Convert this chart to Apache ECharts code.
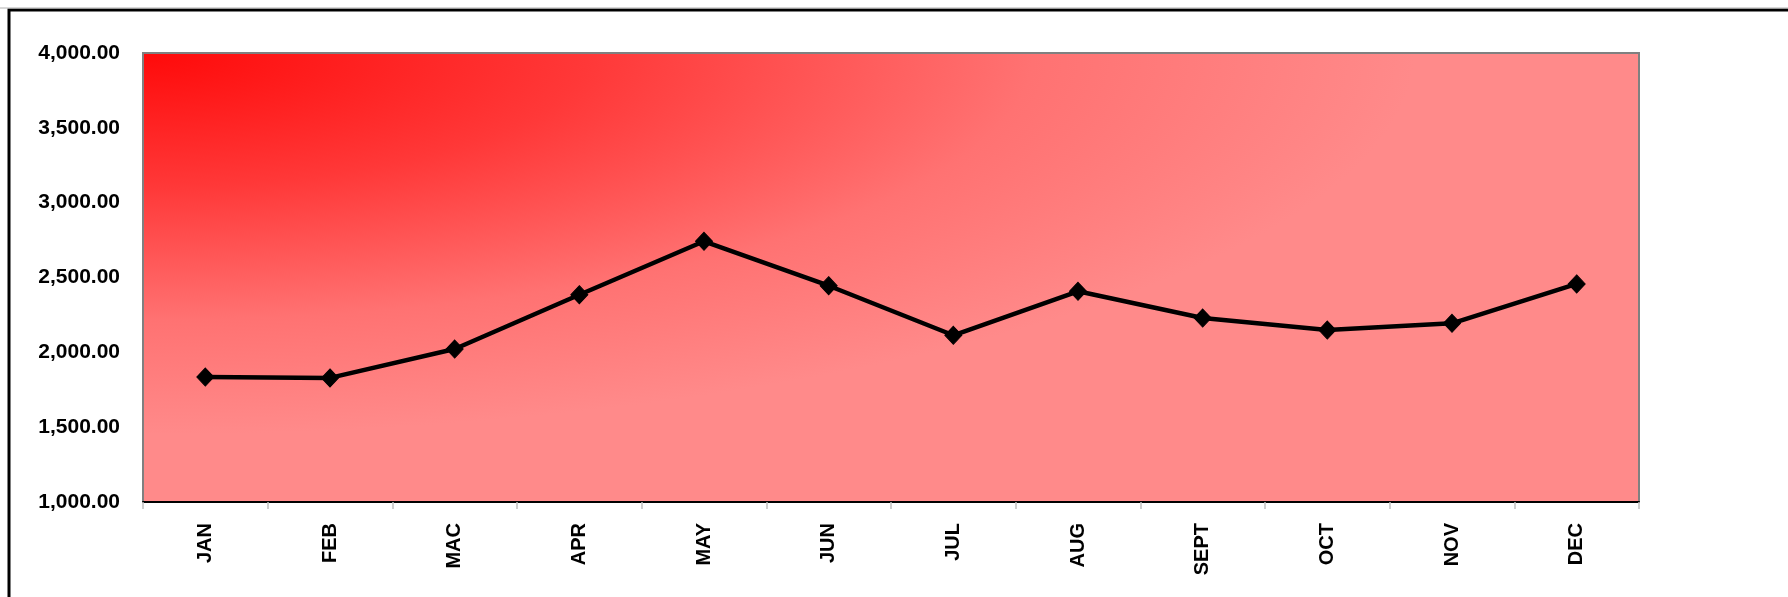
<!DOCTYPE html>
<html>
<head>
<meta charset="utf-8">
<script src="https://cdn.jsdelivr.net/npm/echarts@6/dist/echarts.min.js"></script>
<style>
html,body{margin:0;padding:0;background:#fff;}
#c{width:1788px;height:597px;}
</style>
</head>
<body>
<div id="c"></div>
<script>
var categories = ['JAN','FEB','MAC','APR','MAY','JUN','JUL','AUG','SEPT','OCT','NOV','DEC'];
var values = [1835, 1829, 2022, 2385, 2742, 2445, 2114, 2408, 2229, 2149, 2194, 2457];
var yMin = 1000, yMax = 4000, yStep = 500;

var G = {left: 143, top: 53, width: 1496, height: 449};

var chart = echarts.init(document.getElementById('c'), null, {renderer: 'canvas'});
var grad = new echarts.graphic.RadialGradient(0, 0, 0.85, [
  {offset: 0, color: '#FF0A0A'},
  {offset: 0.35, color: '#FF3838'},
  {offset: 0.7, color: '#FF7272'},
  {offset: 1, color: '#FF8A8A'}
]);
chart.setOption({
  animation: false,
  backgroundColor: '#ffffff',
  graphic: [
    {type: 'rect', z: -10, x: G.left, y: G.top, scaleX: G.width / G.height,
     shape: {x: 0, y: 0, width: G.height, height: G.height},
     style: {fill: grad}},
    {type: 'rect', z: 100, shape: {x: 9, y: 10, width: 2200, height: 1200},
     style: {fill: 'none', stroke: '#000', lineWidth: 3}},
    {type: 'line', z: 100, shape: {x1: 0, y1: 8, x2: 1788, y2: 8},
     style: {stroke: '#b0b0b0', lineWidth: 1}}
  ],
  grid: {left: G.left, top: G.top, width: G.width, height: G.height,
         show: true, backgroundColor: 'transparent', borderColor: '#808080', borderWidth: 2, containLabel: false},
  xAxis: {
    type: 'category', data: categories, boundaryGap: true,
    axisLine: {lineStyle: {color: '#000', width: 2}},
    axisTick: {show: true, length: 7, lineStyle: {color: '#c0c0c0', width: 1.5}},
    axisLabel: {rotate: 90, margin: 21, color: '#000', fontWeight: 'bold', fontSize: 20,
                fontFamily: 'Liberation Sans, Arial, sans-serif'},
    splitLine: {show: false}
  },
  yAxis: {
    type: 'value', min: yMin, max: yMax, interval: yStep,
    axisLine: {show: false}, axisTick: {show: false}, splitLine: {show: false},
    axisLabel: {margin: 23, color: '#000', fontWeight: 'bold', fontSize: 21,
                fontFamily: 'Liberation Sans, Arial, sans-serif',
                formatter: function (v) { return v.toLocaleString('en-US', {minimumFractionDigits: 2, maximumFractionDigits: 2}); }}
  },
  series: [{
    type: 'line', data: values, z: 5,
    symbol: 'diamond', symbolSize: [17, 18], showSymbol: true,
    lineStyle: {color: '#000', width: 4.5},
    itemStyle: {color: '#000', borderColor: '#000'}
  }]
});
</script>
</body>
</html>
